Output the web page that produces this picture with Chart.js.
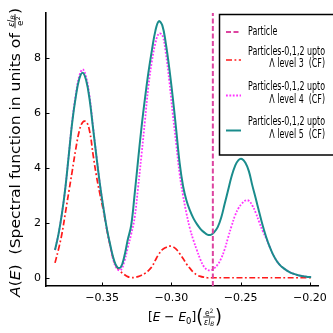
<!DOCTYPE html>
<html>
<head>
<meta charset="utf-8">
<script src="https://cdn.jsdelivr.net/npm/chart.js@4"></script>
<style>
  html, body { margin: 0; background: #fff; }
  #wrap { width: 333px; height: 333px; position: relative; }
</style>
</head>
<body>
<div id="wrap"><canvas id="spectral-chart"></canvas></div>
<script>
/*global Chart */
// energy grid (x) and spectral weight (y)
const energies = [
  -0.3840, -0.3815, -0.3790, -0.3765, -0.3740, -0.3715, -0.3690, -0.3665, -0.3640, -0.3615,
  -0.3590, -0.3565, -0.3540, -0.3515, -0.3490, -0.3465, -0.3440, -0.3415, -0.3390, -0.3365,
  -0.3340, -0.3315, -0.3290, -0.3265, -0.3240, -0.3215, -0.3190, -0.3165, -0.3140, -0.3115,
  -0.3090, -0.3065, -0.3040, -0.3015, -0.2990, -0.2965, -0.2940, -0.2915, -0.2890, -0.2865,
  -0.2840, -0.2815, -0.2790, -0.2765, -0.2740, -0.2715, -0.2690, -0.2665, -0.2640, -0.2615,
  -0.2590, -0.2565, -0.2540, -0.2515, -0.2490, -0.2465, -0.2440, -0.2415, -0.2390, -0.2365,
  -0.2340, -0.2315, -0.2290, -0.2265, -0.2240, -0.2215, -0.2190, -0.2165, -0.2140, -0.2115,
  -0.2090, -0.2065, -0.2040, -0.2015, -0.1990
]

const level3 = [
  0.56, 1.05, 1.62, 2.38, 3.15, 3.92, 4.7, 5.35, 5.68, 5.7,
  5.35, 4.5, 3.7, 3.05, 2.45, 1.75, 1.15, 0.64, 0.38, 0.24,
  0.14, 0.06, 0.03, 0.03, 0.06, 0.11, 0.18, 0.28, 0.42, 0.66,
  0.88, 1.04, 1.12, 1.17, 1.15, 1.06, 0.9, 0.72, 0.52, 0.36,
  0.22, 0.12, 0.07, 0.04, 0.02, 0.02, 0.02, 0.02, 0.02, 0.02,
  0.02, 0.02, 0.02, 0.02, 0.02, 0.02, 0.02, 0.02, 0.02, 0.02,
  0.02, 0.02, 0.02, 0.02, 0.02, 0.02, 0.02, 0.02, 0.02, 0.02,
  0.02, 0.02, 0.02, 0.02, 0.02
]

const level4 = [
  1.03, 1.6, 2.35, 3.3, 4.52, 5.75, 6.68, 7.35, 7.6, 7.32,
  6.6, 5.5, 4.42, 3.4, 2.55, 1.77, 1.15, 0.6, 0.33, 0.3,
  0.6, 1.1, 1.6, 2.2, 3.3, 4.5, 5.75, 7.0, 7.9, 8.55,
  8.9, 8.85, 8.2, 7.2, 6.0, 4.9, 3.8, 3.0, 2.35, 1.8,
  1.38, 1.02, 0.68, 0.43, 0.31, 0.29, 0.36, 0.5, 0.72, 1.05,
  1.48, 1.9, 2.28, 2.55, 2.72, 2.83, 2.82, 2.65, 2.38, 2.04,
  1.72, 1.45, 1.15, 0.86, 0.64, 0.48, 0.37, 0.28, 0.21, 0.16,
  0.12, 0.09, 0.07, 0.05, 0.04
]

const level5 = [
  1.03, 1.6, 2.35, 3.3, 4.5, 5.7, 6.6, 7.25, 7.48, 7.2,
  6.5, 5.45, 4.4, 3.4, 2.55, 1.79, 1.19, 0.68, 0.4, 0.4,
  0.78, 1.39, 1.92, 3.05, 4.3, 5.5, 6.55, 7.5, 8.3, 9.0,
  9.35, 9.2, 8.55, 7.65, 6.6, 5.42, 4.2, 3.35, 2.82, 2.46,
  2.18, 1.97, 1.8, 1.68, 1.59, 1.58, 1.68, 1.86, 2.2, 2.7,
  3.2, 3.7, 4.08, 4.3, 4.34, 4.2, 3.9, 3.38, 2.9, 2.4,
  1.92, 1.5, 1.15, 0.86, 0.64, 0.48, 0.37, 0.28, 0.21, 0.16,
  0.12, 0.09, 0.07, 0.05, 0.04
]

const particleEnergy = -0.27
const xTicks = [-0.35, -0.30, -0.25, -0.20]
const yTicks = [0, 2, 4, 6, 8]

const legendItems = [
  { lines: ['Particle'], color: '#dd44a0', dash: [5, 2.5], width: 2 },
  { lines: ['Particles-0,1,2 upto', 'Λ level 3  (CF)'], color: '#ff1a1a', dash: [6, 2.5, 1.8, 2.5], width: 1.7 },
  { lines: ['Particles-0,1,2 upto', 'Λ level 4  (CF)'], color: '#ff33ff', dash: [1.8, 1.6], width: 1.8 },
  { lines: ['Particles-0,1,2 upto', 'Λ level 5  (CF)'], color: '#1a8c8c', dash: [], width: 2 },
]

const toPoints = ys => energies.map((x, i) => ({ x, y: ys[i] }))

const formatTick = v => (v < 0 ? '\u2212' : '') + Math.abs(v).toFixed(2)

// draws a run of text pieces, returns the width; when measureOnly nothing is painted
const drawPieces = (ctx, pieces, x0, baseY, measureOnly) => {
  let x = x0
  pieces.forEach(piece => {
    if (piece.frac) {
      const num = piece.frac[0], den = piece.frac[1]
      const wNum = num.reduce((w, p) => { ctx.font = p.font; return w + ctx.measureText(p.t).width }, 0)
      const wDen = den.reduce((w, p) => { ctx.font = p.font; return w + ctx.measureText(p.t).width }, 0)
      const w = Math.max(wNum, wDen) + 2
      if (!measureOnly) {
        const barY = baseY - piece.bar
        ctx.lineWidth = 0.8
        ctx.beginPath(); ctx.moveTo(x, barY); ctx.lineTo(x + w, barY); ctx.stroke()
        let nx = x + (w - wNum) / 2
        num.forEach(p => { ctx.font = p.font; ctx.fillText(p.t, nx, barY - 1.5 + (p.dy || 0)); nx += ctx.measureText(p.t).width })
        let dx = x + (w - wDen) / 2
        den.forEach(p => { ctx.font = p.font; ctx.fillText(p.t, dx, barY + piece.denDrop + (p.dy || 0)); dx += ctx.measureText(p.t).width })
      }
      x += w
    } else {
      ctx.font = piece.font
      if (!measureOnly) ctx.fillText(piece.t, x, baseY + (piece.dy || 0))
      x += ctx.measureText(piece.t).width
    }
  })
  return x - x0
}

const decorations = {
  id: 'decorations',
  afterDatasetsDraw (chart) {
    const { ctx, chartArea: area, scales: { x } } = chart
    const px = x.getPixelForValue(particleEnergy)
    ctx.save()
    ctx.strokeStyle = '#dd44a0'
    ctx.lineWidth = 2
    ctx.setLineDash([5, 2.5])
    ctx.beginPath()
    ctx.moveTo(px, area.bottom)
    ctx.lineTo(px, area.top)
    ctx.stroke()
    ctx.restore()
  },
  afterDraw (chart) {
    const { ctx, chartArea: area, scales: { x, y } } = chart
    ctx.save()
    ctx.strokeStyle = '#000'
    ctx.fillStyle = '#000'
    ctx.lineWidth = 1

    // inward tick marks
    xTicks.forEach(v => {
      const px = Math.round(x.getPixelForValue(v)) + 0.5
      ctx.beginPath(); ctx.moveTo(px, area.bottom); ctx.lineTo(px, area.bottom - 3.5); ctx.stroke()
    })
    yTicks.forEach(v => {
      const py = Math.round(y.getPixelForValue(v)) + 0.5
      ctx.beginPath(); ctx.moveTo(area.left, py); ctx.lineTo(area.left + 3.5, py); ctx.stroke()
    })

    // legend
    const box = { left: 219.5, top: 14.5, right: 340, bottom: 155 }
    ctx.fillStyle = '#fff'
    ctx.fillRect(box.left, box.top, box.right - box.left, box.bottom - box.top)
    ctx.lineWidth = 1.5
    ctx.strokeStyle = '#000'
    ctx.strokeRect(box.left, box.top, box.right - box.left, box.bottom - box.top)
    ctx.font = '12px "DejaVu Sans"'
    const squeeze = 77 / ctx.measureText('Particles-0,1,2 upto').width
    const sampleY = [32, 60, 95.5, 130.5]
    const textY = [[32], [51.5, 64], [87, 99.5], [121.5, 135]]
    ctx.textBaseline = 'middle'
    legendItems.forEach((item, i) => {
      ctx.strokeStyle = item.color
      ctx.lineWidth = item.width
      ctx.setLineDash(item.dash)
      ctx.beginPath(); ctx.moveTo(226, sampleY[i]); ctx.lineTo(241, sampleY[i]); ctx.stroke()
      ctx.setLineDash([])
      ctx.fillStyle = '#000'
      item.lines.forEach((line, j) => {
        const w = ctx.measureText(line).width * squeeze
        const left = j === 0 ? 248 : 325 - w
        ctx.save()
        ctx.translate(left, textY[i][j])
        ctx.scale(squeeze, 1)
        ctx.fillText(line, 0, 0)
        ctx.restore()
      })
    })

    // y axis title
    ctx.fillStyle = '#000'
    ctx.strokeStyle = '#000'
    ctx.textBaseline = 'alphabetic'
    const yf = '14px "DejaVu Sans"', yi = 'italic 14px "DejaVu Sans"'
    const yPieces = [
      { t: 'A', font: yi }, { t: '(', font: yf }, { t: 'E', font: yi }, { t: ')  (Spectral function in units of ', font: yf },
      { frac: [[{ t: 'εl', font: 'italic 8px "DejaVu Sans"' }, { t: 'B', font: 'italic 6px "DejaVu Sans"', dy: 1.5 }],
               [{ t: 'e', font: '8px "DejaVu Sans"' }, { t: '2', font: '6px "DejaVu Sans"', dy: -3 }]],
        bar: 5, denDrop: 7.5 },
      { t: ')', font: yf },
    ]
    const yW = drawPieces(ctx, yPieces, 0, 0, true)
    const yScale = 289 / yW
    ctx.save()
    ctx.translate(20, 152.5)
    ctx.rotate(-Math.PI / 2)
    ctx.scale(yScale, 1)
    drawPieces(ctx, yPieces, -yW / 2, 0, false)
    ctx.restore()

    // x axis title
    const xf = '13px "DejaVu Sans"', xi = 'italic 13px "DejaVu Sans"'
    const xPieces = [
      { t: '[', font: xf }, { t: 'E', font: xi }, { t: ' \u2212 ', font: xf }, { t: 'E', font: xi },
      { t: '0', font: '9px "DejaVu Sans"', dy: 2.5 }, { t: ']', font: xf },
      { t: '(', font: '19px "DejaVu Sans"', dy: 2 },
      { frac: [[{ t: 'e', font: '8px "DejaVu Sans"' }, { t: '2', font: '6px "DejaVu Sans"', dy: -3 }],
               [{ t: 'εl', font: 'italic 8px "DejaVu Sans"' }, { t: 'B', font: 'italic 6px "DejaVu Sans"', dy: 1.5 }]],
        bar: 4, denDrop: 7.5 },
      { t: ')', font: '19px "DejaVu Sans"', dy: 2 },
    ]
    const xW = drawPieces(ctx, xPieces, 0, 0, true)
    const xScale = 74 / xW
    ctx.save()
    ctx.translate(185, 321)
    ctx.scale(xScale, 1)
    drawPieces(ctx, xPieces, -xW / 2, 0, false)
    ctx.restore()

    ctx.restore()
  }
}

new Chart(document.getElementById('spectral-chart'), {
  type: 'line',
  data: {
    datasets: [
      { label: 'level 5', data: toPoints(level5), borderColor: '#1a8c8c', borderWidth: 2 },
      { label: 'level 4', data: toPoints(level4), borderColor: '#ff33ff', borderWidth: 1.8, borderDash: [1.8, 1.6] },
      { label: 'level 3', data: toPoints(level3), borderColor: '#ff1a1a', borderWidth: 1.7, borderDash: [6, 2.5, 1.8, 2.5] },
    ]
  },
  options: {
    responsive: true,
    maintainAspectRatio: false,
    animation: false,
    layout: { padding: { left: 0, top: 13, right: 11, bottom: 0 } },
    elements: {
      point: { radius: 0 },
      line: { tension: 0.4, fill: false }
    },
    plugins: { legend: { display: false }, tooltip: { enabled: false } },
    scales: {
      x: {
        type: 'linear',
        min: -0.3905,
        max: -0.1934,
        afterBuildTicks: scale => { scale.ticks = xTicks.map(value => ({ value })) },
        afterFit: scale => { scale.height = 47 },
        grid: { display: false, drawTicks: false },
        border: { display: true, color: '#000', width: 1.6 },
        ticks: {
          padding: 6,
          color: '#000',
          font: { family: 'DejaVu Sans', size: 11 },
          maxRotation: 0,
          callback: value => formatTick(value)
        }
      },
      y: {
        min: -0.28,
        max: 9.65,
        afterBuildTicks: scale => { scale.ticks = yTicks.map(value => ({ value })) },
        afterFit: scale => { scale.width = 46 },
        grid: { display: false, drawTicks: false },
        border: { display: true, color: '#000', width: 1.6 },
        ticks: { padding: 5, color: '#000', font: { family: 'DejaVu Sans', size: 11 } }
      }
    }
  },
  plugins: [decorations]
})
</script>
</body>
</html>
